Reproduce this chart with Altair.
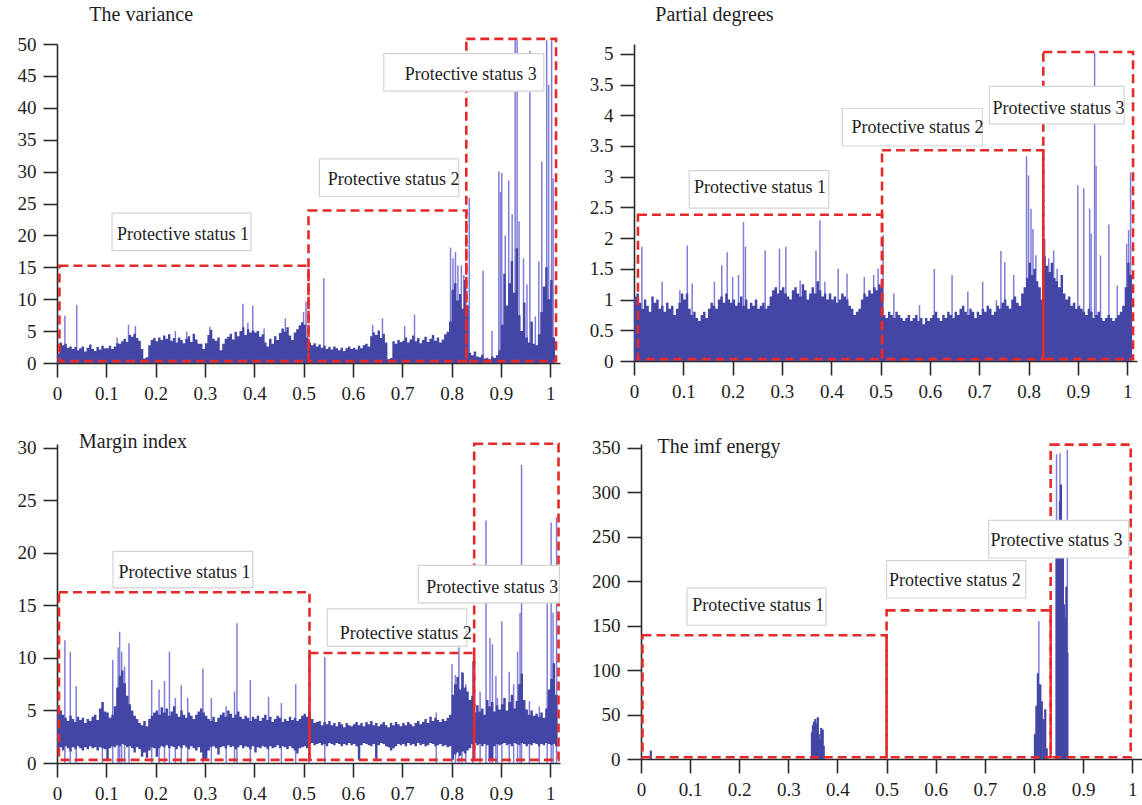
import altair as alt
import pandas as pd

FONT = "Liberation Serif"
BLUE = "#4446a5"
BLUE_LIGHT = "#807dd8"
RED = "#e42a2a"
INK = "#1e1e1e"
AXIS = "#2b2b2b"
STEP = 0.005  # sampling step of the dense signal bands
X_TICKS = [0, 0.1, 0.2, 0.3, 0.4, 0.5, 0.6, 0.7, 0.8, 0.9, 1]
X_DOMAIN = [0, 1.02]
STATUS = ["Protective status 1", "Protective status 2", "Protective status 3"]

# ---------------- The variance ----------------
variance_core = [
    1.5, 3.2, 2.8, 3.0, 2.4, 2.6, 2.2, 2.5, 2.0, 2.3, 2.6, 1.8, 2.4, 2.9, 2.2, 1.9, 2.5, 2.1, 2.7, 2.3,
    2.3, 2.7, 2.2, 2.6, 3.1, 3.0, 3.4, 3.8, 3.3, 4.4, 4.1, 4.6, 3.9, 3.5, 2.2, 0.7, 0.9, 2.8, 3.6, 3.9,
    3.4, 4.0, 3.6, 4.3, 3.8, 4.5, 3.5, 3.9, 3.2, 4.0, 3.6, 3.1, 3.8, 4.2, 3.3, 4.6, 3.7, 3.0, 3.0, 2.2,
    3.1, 4.4, 5.2, 3.8, 3.5, 4.0, 2.0, 3.0, 3.8, 4.1, 4.6, 3.7, 4.9, 4.2, 5.0, 5.6, 4.4, 5.3, 4.8, 5.1,
    4.8, 5.0, 4.1, 4.5, 3.2, 2.6, 3.8, 3.0, 4.2, 3.6, 4.7, 5.4, 4.9, 5.6, 4.3, 3.6, 4.8, 5.3, 5.9, 6.4,
    6.0, 4.0, 3.2, 2.8, 3.1, 2.6, 2.9, 2.4, 2.7, 2.2, 2.5, 2.1, 2.6, 2.3, 2.0, 2.4, 1.9, 2.3, 2.6, 2.2,
    2.4, 2.1, 2.7, 2.3, 2.8, 3.0, 2.6, 4.2, 4.8, 4.4, 5.1, 3.9, 4.6, 3.2, 0.6, 0.8, 3.4, 3.0, 3.6, 3.3,
    3.5, 4.0, 3.2, 3.7, 4.3, 3.4, 3.9, 3.1, 3.6, 4.1, 3.3, 3.8, 4.4, 3.5, 4.0, 3.2, 3.7, 4.5, 4.9, 6.5,
    11.5, 12.5, 9.8, 10.8, 8.5, 13.0, 9.0, 1.6, 1.2, 1.8, 1.0, 0.9, 1.3, 0.7, 0.8, 0.6, 1.0, 0.8, 1.2, 2.0,
    6.0, 14.0, 9.0, 12.5, 16.0, 11.0, 18.0, 7.5, 5.0, 9.5, 4.0, 3.2, 6.5, 3.0, 2.8, 4.5, 8.0, 12.0, 15.0, 10.0,
    13.0, 4.0,
]
variance_spike_x = [
    0.016, 0.04, 0.122, 0.145, 0.159, 0.24, 0.263, 0.31, 0.377, 0.387,
    0.397, 0.42, 0.463, 0.5, 0.505, 0.541, 0.64, 0.66, 0.705, 0.725,
    0.798, 0.803, 0.808, 0.813, 0.82, 0.825, 0.836, 0.864, 0.882, 0.896,
    0.899, 0.902, 0.909, 0.916, 0.923, 0.929, 0.933, 0.937, 0.946, 0.953,
    0.959, 0.97, 0.977, 0.983, 0.993, 0.997, 1.003, 1.006,
]
variance_spike_v = [
    7.4, 9.1, 4.0, 6.0, 5.8, 5.0, 4.9, 5.7, 9.3, 6.3,
    9.0, 5.4, 7.0, 8.0, 9.6, 13.3, 6.0, 7.0, 5.8, 7.6,
    18.1, 16.4, 17.4, 15.3, 15.3, 13.8, 25.9, 14.5, 5.0, 30.0,
    26.8, 29.8, 20.0, 28.6, 23.3, 50.6, 50.6, 22.2, 16.4, 12.3,
    48.9, 7.3, 15.9, 31.6, 50.6, 43.6, 50.6, 28.9,
]
variance_box_x0 = [0.005, 0.51, 0.83]
variance_box_x1 = [0.51, 0.83, 1.012]
variance_box_bottom = [0.3, 0.3, 0.3]
variance_box_top = [15.25, 23.9, 50.8]
variance_tag_x0 = [0.1116, 0.532, 0.6626]
variance_tag_x1 = [0.3935, 0.8146, 0.9872]
variance_tag_y0 = [17.6, 26.1, 42.6]
variance_tag_y1 = [23.5, 32.0, 48.5]
variance_text_x = [0.2554, 0.6826, 0.839]
variance_text_y = [20.1, 28.7, 45.1]

# ---------------- Partial degrees ----------------
partial_core = [
    1.05, 1.1, 0.95, 0.85, 1.0, 0.9, 0.8, 1.05, 0.95, 1.0, 0.85, 0.9, 0.8, 0.95, 0.85, 0.9, 0.75, 0.85, 0.95, 1.1,
    1.0, 1.1, 0.85, 0.75, 0.8, 0.7, 0.65, 0.75, 0.8, 0.7, 0.85, 0.95, 0.9, 0.85, 1.0, 1.05, 0.95, 1.1, 1.0, 0.95,
    1.0, 0.9, 0.95, 1.05, 0.9, 1.0, 0.85, 0.95, 0.9, 1.0, 0.85, 0.9, 0.95, 0.85, 0.9, 1.05, 1.15, 1.2, 1.1, 1.15,
    1.2, 1.1, 1.05, 1.0, 1.15, 1.2, 1.1, 1.05, 1.25, 1.15, 1.0, 1.1, 1.2, 1.1, 1.3, 1.15, 1.05, 1.1, 1.0, 1.1,
    1.0, 1.05, 0.95, 1.0, 1.1, 1.05, 1.0, 0.9, 0.85, 0.75, 0.8, 0.85, 1.0, 1.1, 1.05, 1.15, 1.1, 1.2, 1.15, 1.25,
    1.2, 0.75, 0.7, 0.8, 0.75, 0.7, 0.8, 0.75, 0.7, 0.65, 0.7, 0.75, 0.65, 0.7, 0.75, 0.65, 0.7, 0.6, 0.7, 0.65,
    0.7, 0.75, 0.8, 0.7, 0.65, 0.75, 0.7, 0.8, 0.75, 0.7, 0.8, 0.75, 0.85, 0.9, 0.8, 0.75, 0.85, 0.8, 0.7, 0.8,
    0.75, 0.85, 0.8, 0.9, 0.85, 0.75, 0.8, 0.9, 0.85, 0.95, 1.0, 0.9, 0.85, 1.0, 1.05, 0.95, 0.9, 1.1, 1.2, 1.35,
    1.6, 1.4, 1.5, 1.3, 1.2, 1.0, 1.7, 1.55, 1.45, 1.6, 1.35, 1.3, 1.2, 1.4, 1.1, 1.0, 1.05, 0.9, 0.95, 0.85,
    0.9, 0.85, 0.8, 0.75, 0.85, 0.8, 0.7, 0.75, 0.8, 0.7, 0.65, 0.7, 0.75, 0.7, 0.65, 0.7, 0.75, 0.8, 0.9, 1.2,
    1.6, 1.4,
]
partial_spike_x = [
    0.016, 0.057, 0.093, 0.108, 0.118, 0.163, 0.178, 0.189, 0.2, 0.212,
    0.222, 0.226, 0.266, 0.295, 0.308, 0.337, 0.369, 0.377, 0.387, 0.414,
    0.432, 0.467, 0.486, 0.495, 0.505, 0.527, 0.579, 0.609, 0.645, 0.677,
    0.707, 0.735, 0.744, 0.752, 0.77, 0.796, 0.8, 0.805, 0.809, 0.815,
    0.833, 0.841, 0.851, 0.858, 0.9, 0.912, 0.924, 0.927, 0.934, 0.937,
    0.946, 0.963, 0.98, 0.999, 1.003, 1.007,
]
partial_spike_v = [
    1.86, 1.29, 1.15, 1.88, 1.26, 1.29, 1.56, 1.77, 1.37, 1.4,
    2.26, 1.86, 1.8, 1.83, 1.86, 1.31, 1.8, 2.29, 1.29, 1.5,
    1.42, 1.37, 1.4, 1.5, 2.05, 1.1, 0.91, 1.5, 1.4, 1.13,
    1.29, 0.99, 1.79, 1.61, 1.4, 3.33, 3.02, 2.48, 2.15, 1.72,
    1.99, 1.67, 1.8, 1.5, 2.86, 2.81, 2.48, 2.07, 5.02, 3.18,
    1.72, 2.22, 1.23, 1.91, 2.13, 3.07,
]
partial_box_x0 = [0.008, 0.503, 0.83]
partial_box_x1 = [0.503, 0.83, 1.012]
partial_box_bottom = [0.03, 0.03, 0.03]
partial_box_top = [2.38, 3.43, 5.03]
partial_tag_x0 = [0.112, 0.4226, 0.7207]
partial_tag_x1 = [0.395, 0.7065, 0.9939]
partial_tag_y0 = [2.49, 3.50, 3.86]
partial_tag_y1 = [3.10, 4.11, 4.47]
partial_text_x = [0.2553, 0.575, 0.861]
partial_text_y = [2.82, 3.80, 4.11]

# ---------------- Margin index ----------------
margin_core = [
    5.5, 5.0, 4.6, 4.3, 4.0, 4.5, 4.2, 3.9, 4.4, 4.1, 4.3, 3.8, 4.2, 4.0, 4.4, 4.6, 4.1, 5.2, 5.8, 4.9,
    4.8, 4.3, 4.6, 5.4, 7.2, 8.3, 8.8, 7.6, 6.4, 5.6, 5.0, 4.5, 4.2, 3.8, 3.6, 4.0, 3.5, 4.2, 4.5, 4.8,
    5.0, 4.6, 5.3, 4.8, 5.2, 4.5, 4.9, 5.4, 4.7, 4.4, 5.0, 4.6, 4.3, 4.8, 4.5, 4.2, 4.6, 4.9, 5.2, 4.8,
    4.5, 4.2, 4.0, 4.4, 3.9, 4.3, 4.6, 4.8, 4.4, 5.0, 4.7, 4.3, 4.6, 4.9, 4.4, 4.2, 4.5, 4.3, 4.0, 4.4,
    4.2, 4.5, 4.0, 4.3, 4.6, 4.1, 4.4, 3.9, 4.2, 4.5, 4.3, 3.9, 4.2, 4.0, 4.4, 4.1, 4.3, 4.0, 4.2, 4.5,
    4.7, 4.4, 4.8, 4.2, 3.8, 3.9, 4.0, 3.6, 3.9, 3.7, 4.0, 3.6, 3.8, 3.5, 3.9, 3.7, 3.4, 3.8, 3.6, 3.5,
    3.7, 3.9, 3.6, 3.8, 3.5, 3.9, 3.7, 4.0, 3.6, 3.8, 3.5, 3.7, 3.9, 3.6, 3.4, 3.8, 3.6, 3.9, 3.7, 3.5,
    3.8, 3.6, 3.9, 3.7, 3.5, 3.8, 4.0, 3.7, 3.9, 4.2, 3.8, 4.4, 4.0, 4.3, 4.1, 3.9, 4.2, 4.0, 4.3, 4.6,
    6.5, 7.5, 8.2, 7.0, 8.6, 7.2, 6.8, 6.0, 6.4, 4.8, 5.5, 4.9, 5.2, 4.6, 6.0, 5.4, 5.8, 4.9, 5.5, 5.1,
    5.6, 6.2, 5.0, 5.8, 6.5, 5.2, 5.9, 7.5, 8.5, 6.0, 5.1, 4.6, 5.0, 4.5, 4.7, 4.4, 4.8, 4.3, 5.2, 7.0,
    8.0, 9.5, 6.5,
]
margin_low = [
    1.3, 1.5, 1.2, 1.6, 1.4, 1.1, 1.5, 1.3, 1.6, 1.4, 1.2, 1.5, 1.3, 1.6, 1.4, 1.5, 1.2, 1.5, 1.4, 1.3,
    0.3, 1.4, 1.6, 1.5, 1.7, 1.6, 1.8, 1.7, 1.5, 1.6, 1.4, 1.0, 1.5, 1.3, 0.6, 1.0, 0.5, 1.2, 1.5, 1.4,
    0.6, 1.4, 1.6, 1.5, 1.7, 1.4, 1.6, 1.5, 1.3, 1.6, 1.4, 1.7, 1.5, 1.3, 1.6, 1.4, 1.2, 1.5, 1.0, 0.3,
    0.4, 1.2, 1.5, 1.6, 1.4, 0.8, 1.5, 1.6, 1.4, 1.7, 1.5, 1.6, 1.3, 1.5, 1.7, 1.4, 1.6, 1.5, 1.3, 1.6,
    1.0, 1.5, 1.4, 1.6, 1.5, 1.3, 1.6, 1.4, 1.5, 1.7, 1.4, 1.6, 1.5, 1.3, 1.6, 1.4, 1.2, 0.9, 1.4, 1.5,
    1.6, 1.4, 1.8, 1.9, 1.7, 1.8, 1.9, 1.7, 1.8, 1.6, 1.9, 1.8, 1.7, 1.9, 1.8, 1.6, 1.8, 1.7, 1.9, 1.7,
    1.8, 1.6, 0.3, 1.7, 1.9, 1.8, 1.7, 1.6, 1.8, 0.4, 1.7, 1.9, 1.8, 1.6, 1.5, 1.2, 1.4, 1.6, 1.8, 1.7,
    1.8, 1.6, 1.9, 1.7, 1.8, 1.6, 1.9, 1.7, 1.8, 1.6, 1.7, 1.9, 1.8, 1.6, 1.7, 1.8, 1.6, 1.7, 1.5, 1.6,
    0.3, 0.8, 1.0, 0.7, 1.1, 0.9, 1.2, 1.4, 1.8, 1.9, 1.7, 1.8, 1.6, 1.8, 1.7, 0.4, 0.3, 1.6, 1.8, 1.7,
    1.8, 1.9, 1.7, 1.8, 1.6, 1.9, 1.8, 1.7, 1.9, 1.8, 1.6, 1.8, 1.7, 1.9, 1.8, 1.6, 1.8, 1.7, 1.9, 1.8,
    1.7, 1.8, 1.6,
]
margin_spike_x = [
    0.016, 0.027, 0.039, 0.092, 0.113, 0.124, 0.127, 0.131, 0.137, 0.146,
    0.192, 0.207, 0.218, 0.228, 0.24, 0.252, 0.265, 0.296, 0.313, 0.343,
    0.36, 0.365, 0.392, 0.429, 0.455, 0.484, 0.511, 0.543, 0.769, 0.801,
    0.808, 0.815, 0.821, 0.829, 0.843, 0.858, 0.87, 0.878, 0.883, 0.89,
    0.893, 0.902, 0.917, 0.926, 0.934, 0.939, 0.942, 0.958, 0.978, 0.994,
    1.002, 1.006, 1.013,
]
margin_spike_v = [
    11.7, 10.6, 7.3, 5.7, 9.8, 11.0, 12.5, 10.6, 9.2, 11.4,
    7.9, 7.0, 7.8, 10.6, 6.2, 7.4, 6.2, 9.0, 6.2, 5.4,
    6.8, 13.3, 7.9, 6.3, 5.7, 7.5, 5.6, 10.1, 4.8, 9.4,
    8.4, 11.0, 8.7, 7.5, 9.7, 6.8, 23.1, 11.9, 11.3, 8.3,
    6.2, 13.5, 8.7, 7.5, 10.6, 14.3, 28.4, 5.9, 5.4, 15.2,
    22.9, 14.3, 23.4,
]
margin_box_x0 = [0.004, 0.512, 0.846]
margin_box_x1 = [0.512, 0.846, 1.017]
margin_box_bottom = [0.3, 0.3, 0.3]
margin_box_top = [16.26, 10.48, 30.4]
margin_tag_x0 = [0.1135, 0.548, 0.7329]
margin_tag_x1 = [0.397, 0.8309, 1.0187]
margin_tag_y0 = [16.67, 11.11, 15.24]
margin_tag_y1 = [20.16, 14.67, 18.83]
margin_text_x = [0.2585, 0.7073, 0.8826]
margin_text_y = [18.1, 12.29, 16.67]

# ---------------- The imf energy ----------------
imf_dense_x = [
    0.020,
    0.348, 0.350, 0.352, 0.355, 0.357, 0.360, 0.362, 0.365, 0.367, 0.370, 0.372,
    0.802, 0.805, 0.808, 0.810, 0.813, 0.816, 0.820, 0.823, 0.826,
    0.846, 0.849, 0.851, 0.853, 0.855, 0.857, 0.859, 0.861, 0.864, 0.866, 0.868,
]
imf_dense_v = [
    9.5,
    30, 38, 42, 45, 40, 47, 28, 22, 35, 33, 15,
    28, 60, 96, 84, 84, 65, 45, 56, 12,
    230, 260, 200, 290, 309, 250, 226, 174, 159, 194, 120,
]
imf_spike_x = [0.808, 0.810, 0.846, 0.853, 0.868]
imf_spike_v = [97, 155, 343, 344, 348]
imf_box_x0 = [0.003, 0.5, 0.834]
imf_box_x1 = [0.5, 0.834, 0.997]
imf_box_bottom = [1.9, 1.9, 1.9]
imf_box_top = [139.2, 167.3, 353.8]
imf_tag_x0 = [0.0937, 0.4998, 0.7078]
imf_tag_x1 = [0.3768, 0.7834, 0.9929]
imf_tag_y0 = [150.5, 181.2, 226.2]
imf_tag_y1 = [192.4, 223.3, 268.6]
imf_text_x = [0.2389, 0.639, 0.846]
imf_text_y = [171.8, 200.3, 245.8]


def band_frame(tops, lows=None):
    """Step outline of a sampled band: each sample holds for one STEP."""
    n = len(tops)
    lows = lows if lows is not None else [0.0] * n
    return pd.DataFrame({
        "x": [i * STEP for i in range(n + 1)],
        "lo": list(lows) + [lows[-1]],
        "hi": list(tops) + [tops[-1]],
    })


def stick_frame(xs, vs):
    return pd.DataFrame({"x": xs, "v": vs, "base": [0.0] * len(xs)})


def panel(title, title_xy, ydomain, yticks, width, height, extent,
          boxes, tags, band=None, sticks=None, dense=None, ylabel_expr=None):
    xs = alt.Scale(domain=X_DOMAIN, nice=False, zero=False)
    ys = alt.Scale(domain=ydomain, nice=False, zero=False)
    x_axis = alt.Axis(values=X_TICKS, format="~r", labelFlush=False, title=None,
                      ticks=True, tickSize=14)
    y_kw = dict(values=yticks, format="~r", title=None, minExtent=extent, maxExtent=extent,
                ticks=True, tickSize=14)
    if ylabel_expr:
        y_kw["labelExpr"] = ylabel_expr
    y_axis = alt.Axis(**y_kw)

    def X(field):
        return alt.X(field, type="quantitative", scale=xs, axis=x_axis)

    def Y(field):
        return alt.Y(field, type="quantitative", scale=ys, axis=y_axis)

    bx0, bx1, by0, by1 = boxes
    box_df = pd.DataFrame({"x0": bx0, "x1": bx1, "y0": by0, "y1": by1})
    dashed_boxes = alt.Chart(box_df).mark_rect(
        fillOpacity=0, stroke=RED, strokeWidth=2.6, strokeDash=[9, 5]
    ).encode(x=X("x0"), x2="x1:Q", y=Y("y0"), y2="y1:Q")

    layers = []
    if sticks is not None:
        layers.append(
            alt.Chart(sticks).mark_rule(color=BLUE_LIGHT, strokeWidth=1.5).encode(
                x=X("x"), y=Y("base"), y2="v:Q"
            )
        )
    if band is not None:
        layers.append(
            alt.Chart(band).mark_area(color=BLUE, interpolate="step-after", opacity=1).encode(
                x=X("x"), y=Y("hi"), y2="lo:Q"
            )
        )
    if dense is not None:
        layers.append(
            alt.Chart(dense).mark_rule(color=BLUE, strokeWidth=2.2).encode(
                x=X("x"), y=Y("base"), y2="v:Q"
            )
        )
    layers.append(dashed_boxes)

    tx0, tx1, ty0, ty1, cx, cy = tags
    tag_df = pd.DataFrame({"x0": tx0, "x1": tx1, "y0": ty0, "y1": ty1,
                           "cx": cx, "cy": cy, "label": STATUS})
    layers.append(
        alt.Chart(tag_df).mark_rect(fill="white", stroke="#d4d4d4", strokeWidth=1.2).encode(
            x=X("x0"), x2="x1:Q", y=Y("y0"), y2="y1:Q"
        )
    )
    layers.append(
        alt.Chart(tag_df).mark_text(
            font=FONT, fontSize=18, color=INK, align="center", baseline="middle"
        ).encode(x=X("cx"), y=Y("cy"), text="label:N")
    )
    title_df = pd.DataFrame({"x": [title_xy[0]], "y": [title_xy[1]], "t": [title]})
    layers.append(
        alt.Chart(title_df).mark_text(
            font=FONT, fontSize=20, color=INK, align="left", baseline="middle"
        ).encode(x=X("x"), y=Y("y"), text="t:N")
    )
    return alt.layer(*layers).properties(width=width, height=height)


p1 = panel(
    "The variance", (0.0655, 54.6), [0, 50], [0, 5, 10, 15, 20, 25, 30, 35, 40, 45, 50],
    503, 319, 55,
    (variance_box_x0, variance_box_x1, variance_box_bottom, variance_box_top),
    (variance_tag_x0, variance_tag_x1, variance_tag_y0, variance_tag_y1, variance_text_x, variance_text_y),
    band=band_frame(variance_core),
    sticks=stick_frame(variance_spike_x, variance_spike_v),
)
p2 = panel(
    "Partial degrees", (0.0432, 5.64), [0, 5.16],
    [0, 0.5, 1, 1.5, 2, 2.5, 3, 3.5, 4, 4.5, 5],
    503, 317, 55,
    (partial_box_x0, partial_box_x1, partial_box_bottom, partial_box_top),
    (partial_tag_x0, partial_tag_x1, partial_tag_y0, partial_tag_y1, partial_text_x, partial_text_y),
    band=band_frame(partial_core),
    sticks=stick_frame(partial_spike_x, partial_spike_v),
    ylabel_expr="datum.value == 4.5 ? '3.5' : format(datum.value, '~r')",
)
p3 = panel(
    "Margin index", (0.0446, 30.6), [0, 30.38], [0, 5, 10, 15, 20, 25, 30],
    503, 319, 57,
    (margin_box_x0, margin_box_x1, margin_box_bottom, margin_box_top),
    (margin_tag_x0, margin_tag_x1, margin_tag_y0, margin_tag_y1, margin_text_x, margin_text_y),
    band=band_frame(margin_core, margin_low),
    sticks=stick_frame(margin_spike_x, margin_spike_v),
)
p4 = panel(
    "The imf energy", (0.0338, 350.8), [0, 354.5], [0, 50, 100, 150, 200, 250, 300, 350],
    501, 315, 61,
    (imf_box_x0, imf_box_x1, imf_box_bottom, imf_box_top),
    (imf_tag_x0, imf_tag_x1, imf_tag_y0, imf_tag_y1, imf_text_x, imf_text_y),
    sticks=stick_frame(imf_spike_x, imf_spike_v),
    dense=stick_frame(imf_dense_x, imf_dense_v),
)

top_row = alt.hconcat(p1, p2, spacing=19)
bottom_row = alt.hconcat(p3, p4, spacing=20)

chart = (
    alt.vconcat(top_row, bottom_row, spacing=28)
    .properties(padding={"left": 0, "top": 4, "right": 0, "bottom": 0}, background="white")
    .configure_view(stroke=None)
    .configure_axis(
        domainColor=AXIS, domainWidth=1.6, tickColor=AXIS, tickWidth=1.6, tickSize=14,
        labelFont=FONT, labelFontSize=19, labelColor=INK, labelPadding=7, grid=False,
    )
)

chart.save("out.html", embed_options={"renderer": "svg", "actions": False})
